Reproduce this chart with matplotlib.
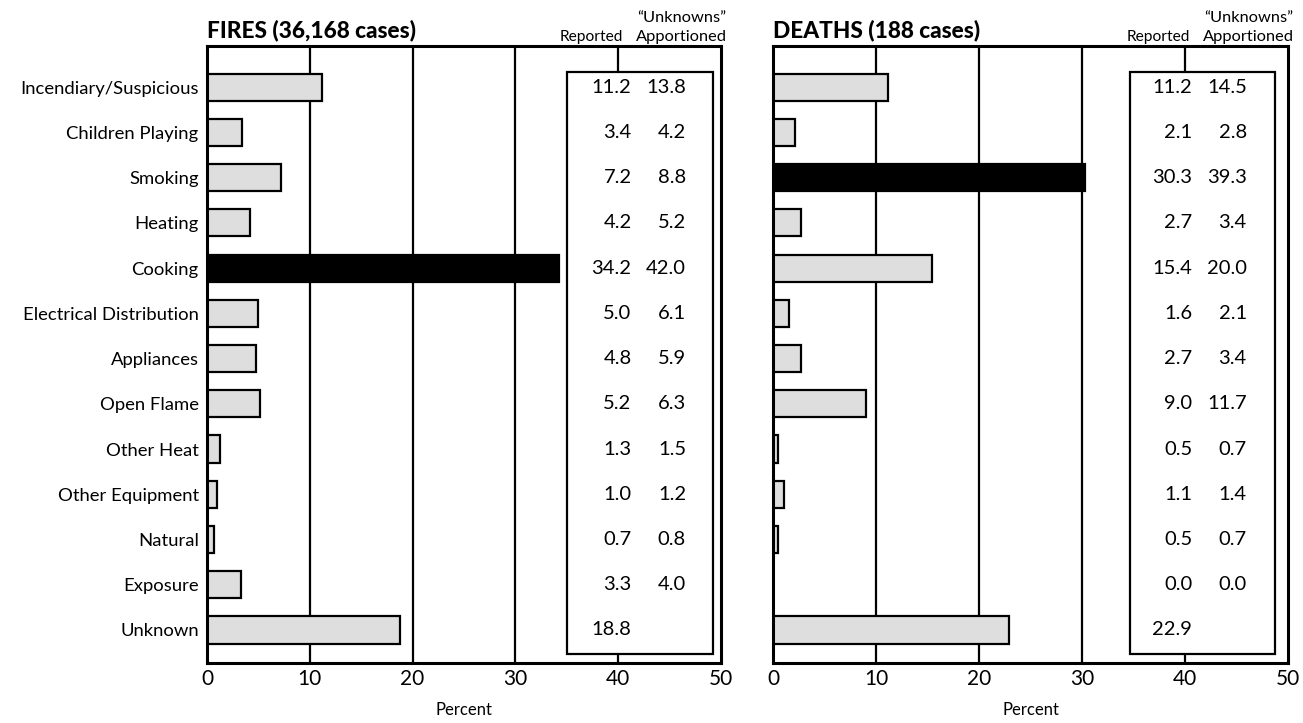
import matplotlib
matplotlib.use("Agg")
import matplotlib.pyplot as plt
from matplotlib.patches import Rectangle

plt.rcParams['font.family'] = ['Lato', 'DejaVu Sans']

categories = ["Incendiary/Suspicious", "Children Playing", "Smoking", "Heating", "Cooking",
              "Electrical Distribution", "Appliances", "Open Flame", "Other Heat",
              "Other Equipment", "Natural", "Exposure", "Unknown"]
fires_reported = [11.2, 3.4, 7.2, 4.2, 34.2, 5.0, 4.8, 5.2, 1.3, 1.0, 0.7, 3.3, 18.8]
fires_apportioned = [13.8, 4.2, 8.8, 5.2, 42.0, 6.1, 5.9, 6.3, 1.5, 1.2, 0.8, 4.0, None]
deaths_reported = [11.2, 2.1, 30.3, 2.7, 15.4, 1.6, 2.7, 9.0, 0.5, 1.1, 0.5, 0.0, 22.9]
deaths_apportioned = [14.5, 2.8, 39.3, 3.4, 20.0, 2.1, 3.4, 11.7, 0.7, 1.4, 0.7, 0.0, None]
titles = ["FIRES (36,168 cases)", "DEATHS (188 cases)"]
xticks = [0, 10, 20, 30, 40, 50]

fig = plt.figure(figsize=(13.03, 7.23), dpi=100)
W, H = 1303, 723
axes_px = [(207, 721), (773, 1288)]
top_px, bot_px = 46, 663
# per-panel box layout (data units): box left, box right, reported right edge, apportioned right edge
box_layout = [(35.0, 49.2, 41.3, 46.6), (34.7, 48.7, 40.7, 46.0)]

datasets = [(fires_reported, fires_apportioned), (deaths_reported, deaths_apportioned)]

for i, ((x0, x1), (rep, app), title, lay) in enumerate(zip(axes_px, datasets, titles, box_layout)):
    ax = fig.add_axes([x0 / W, 1 - bot_px / H, (x1 - x0) / W, (bot_px - top_px) / H])
    n = len(categories)
    ypos = list(range(n))
    known = rep[:-1]
    hi = known.index(max(known))
    colors = ['black' if k == hi else '#dedede' for k in range(n)]
    for g in [10, 20, 30, 40]:
        ax.axvline(g, color='black', lw=1.6, zorder=1)
    ax.barh(ypos, rep, height=0.6, color=colors, edgecolor='black', linewidth=1.6, zorder=2)
    ax.set_xlim(0, 50)
    ax.set_ylim(12.73, -0.91)
    bl, br, rx, axx = lay
    box = Rectangle((bl, -0.33), br - bl, 12.86, facecolor='white', edgecolor='black',
                    linewidth=1.6, zorder=3)
    ax.add_patch(box)
    for k in range(n):
        ax.text(rx, k, f"{rep[k]:.1f}", ha='right', va='center', fontsize=14.5, zorder=4)
        if app[k] is not None:
            ax.text(axx, k, f"{app[k]:.1f}", ha='right', va='center', fontsize=14.5, zorder=4)
    ax.set_xticks(xticks)
    ax.set_xticklabels([str(t) for t in xticks], fontsize=15)
    ax.tick_params(axis='x', length=0, pad=4)
    ax.set_xlabel("Percent", fontsize=12, labelpad=10)
    if i == 0:
        ax.set_yticks(ypos)
        ax.set_yticklabels(categories, fontsize=13.3)
        ax.tick_params(axis='y', length=0, pad=6)
    else:
        ax.set_yticks([])
    for s in ax.spines.values():
        s.set_linewidth(2.2)
    ax.text(0, 1.008, title, transform=ax.transAxes, fontsize=16.3, fontweight='black',
            ha='left', va='bottom')
    # column headers
    fig.text((x1 - 130) / W, 1 - 44 / H, "Reported", fontsize=11.2, ha='center', va='bottom')
    fig.text((x1 + 6) / W, 1 - 44 / H, "Apportioned", fontsize=11.8, ha='right', va='bottom')
    fig.text((x1 + 5) / W, 1 - 25 / H, "\u201cUnknowns\u201d", fontsize=11.8, ha='right', va='bottom')

fig.savefig("out.png", dpi=100)
